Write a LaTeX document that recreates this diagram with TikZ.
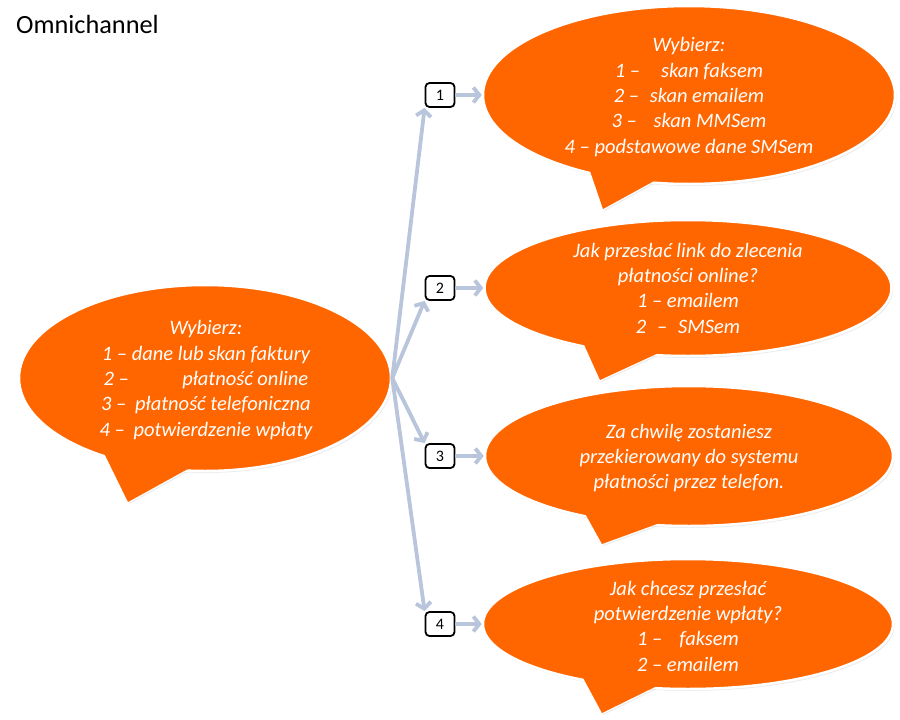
\documentclass[tikz,border=0pt]{standalone}
\usepackage{fontspec}
\setmainfont{Carlito}
\usepackage{tikz}
\usetikzlibrary{arrows.meta,shapes.geometric,shadows}
\definecolor{omni}{HTML}{FF6600}
\definecolor{link}{HTML}{B8C5DB}
\tikzset{
  shade/.style={drop shadow={opacity=0.15, shadow xshift=1.5pt, shadow yshift=-2pt}},
  bub/.style={ellipse, draw=white, line width=2.5pt, fill=omni, inner sep=0pt, shade},
  tail/.style={draw=white, line width=2.5pt, fill=omni, line join=miter, shade},
  tailfill/.style={fill=omni},
  say/.style={text=white, align=center, inner sep=0pt, font=\itshape\fontsize{20.5}{25.3}\selectfont},
  num/.style={draw=black, line width=1.8pt, fill=white, rounded corners=4pt, minimum width=29pt, minimum height=24pt, inner sep=0pt, font=\fontsize{16}{16}\selectfont},
  arr/.style={draw=link, line width=3.8pt, -{Straight Barb[length=6pt, width=15pt]}}
}

\begin{document}
\begin{tikzpicture}[x=1pt, y=-1pt]
\useasboundingbox (0,0) rectangle (900,720);
\node[anchor=base west, inner sep=0pt, font=\fontsize{26.3}{30}\selectfont] (title) at (16,33) {Omnichannel};

\path[tail] (105,455) -- (128,502) -- (195,465) -- cycle;
\node[bub, minimum width=372pt, minimum height=186pt] (wybor) at (205,378) {};
\fill[tailfill] (105,455) -- (128,502) -- (195,465) -- cycle;
\node[say] (wybort) at (206,380) {Wybierz:\\1 – dane lub skan faktury\\2 –\hspace{2.6em}płatność online\\3 –\hspace{0.2em} płatność telefoniczna\\4 –\hspace{0.2em} potwierdzenie wpłaty};

\path[tail] (588,165) -- (603,209) -- (665,175) -- cycle;
\node[bub, minimum width=412pt, minimum height=178pt] (b1) at (689,95) {};
\fill[tailfill] (588,165) -- (603,209) -- (665,175) -- cycle;
\node[say] (t1) at (689,97) {Wybierz:\\1 –\hspace{0.8em} skan faksem\\2 –\hspace{0.3em} skan emailem\\3 –\hspace{0.6em} skan MMSem\\4 – podstawowe dane SMSem};

\path[tail] (582,340) -- (600,380) -- (665,350) -- cycle;
\node[bub, minimum width=407pt, minimum height=136pt] (b2) at (688,288) {};
\fill[tailfill] (582,340) -- (600,380) -- (665,350) -- cycle;
\node[say] (t2) at (688,288) {Jak przesłać link do zlecenia\\płatności online?\\1 – emailem\\2\hspace{0.3em} –\hspace{0.3em} SMSem};

\path[tail] (582,508) -- (602,544) -- (668,520) -- cycle;
\node[bub, minimum width=408pt, minimum height=140pt] (b3) at (689,456) {};
\fill[tailfill] (582,508) -- (602,544) -- (668,520) -- cycle;
\node[say] (t3) at (689,458) {Za chwilę zostaniesz\\przekierowany do systemu\\płatności przez telefon.};

\path[tail] (580,672) -- (602,713) -- (665,682) -- cycle;
\node[bub, minimum width=410pt, minimum height=130pt] (b4) at (688,624) {};
\fill[tailfill] (580,672) -- (602,713) -- (665,682) -- cycle;
\node[say] (t4) at (688,626) {Jak chcesz przesłać\\potwierdzenie wpłaty?\\1 –\hspace{0.6em} faksem\\2 – emailem};

\node[num] (n1) at (440,95) {1};
\node[num] (n2) at (440,288) {2};
\node[num] (n3) at (440,456) {3};
\node[num] (n4) at (440,624) {4};

\draw[arr] (wybor.east) -- (n1.south west);
\draw[arr] (wybor.east) -- (n2.south west);
\draw[arr] (wybor.east) -- (n3.north west);
\draw[arr] (wybor.east) -- (n4.north west);
\draw[arr] (n1) -- (b1);
\draw[arr] (n2) -- (b2);
\draw[arr] (n3) -- (b3);
\draw[arr] (n4) -- (b4);
\end{tikzpicture}
\end{document}
